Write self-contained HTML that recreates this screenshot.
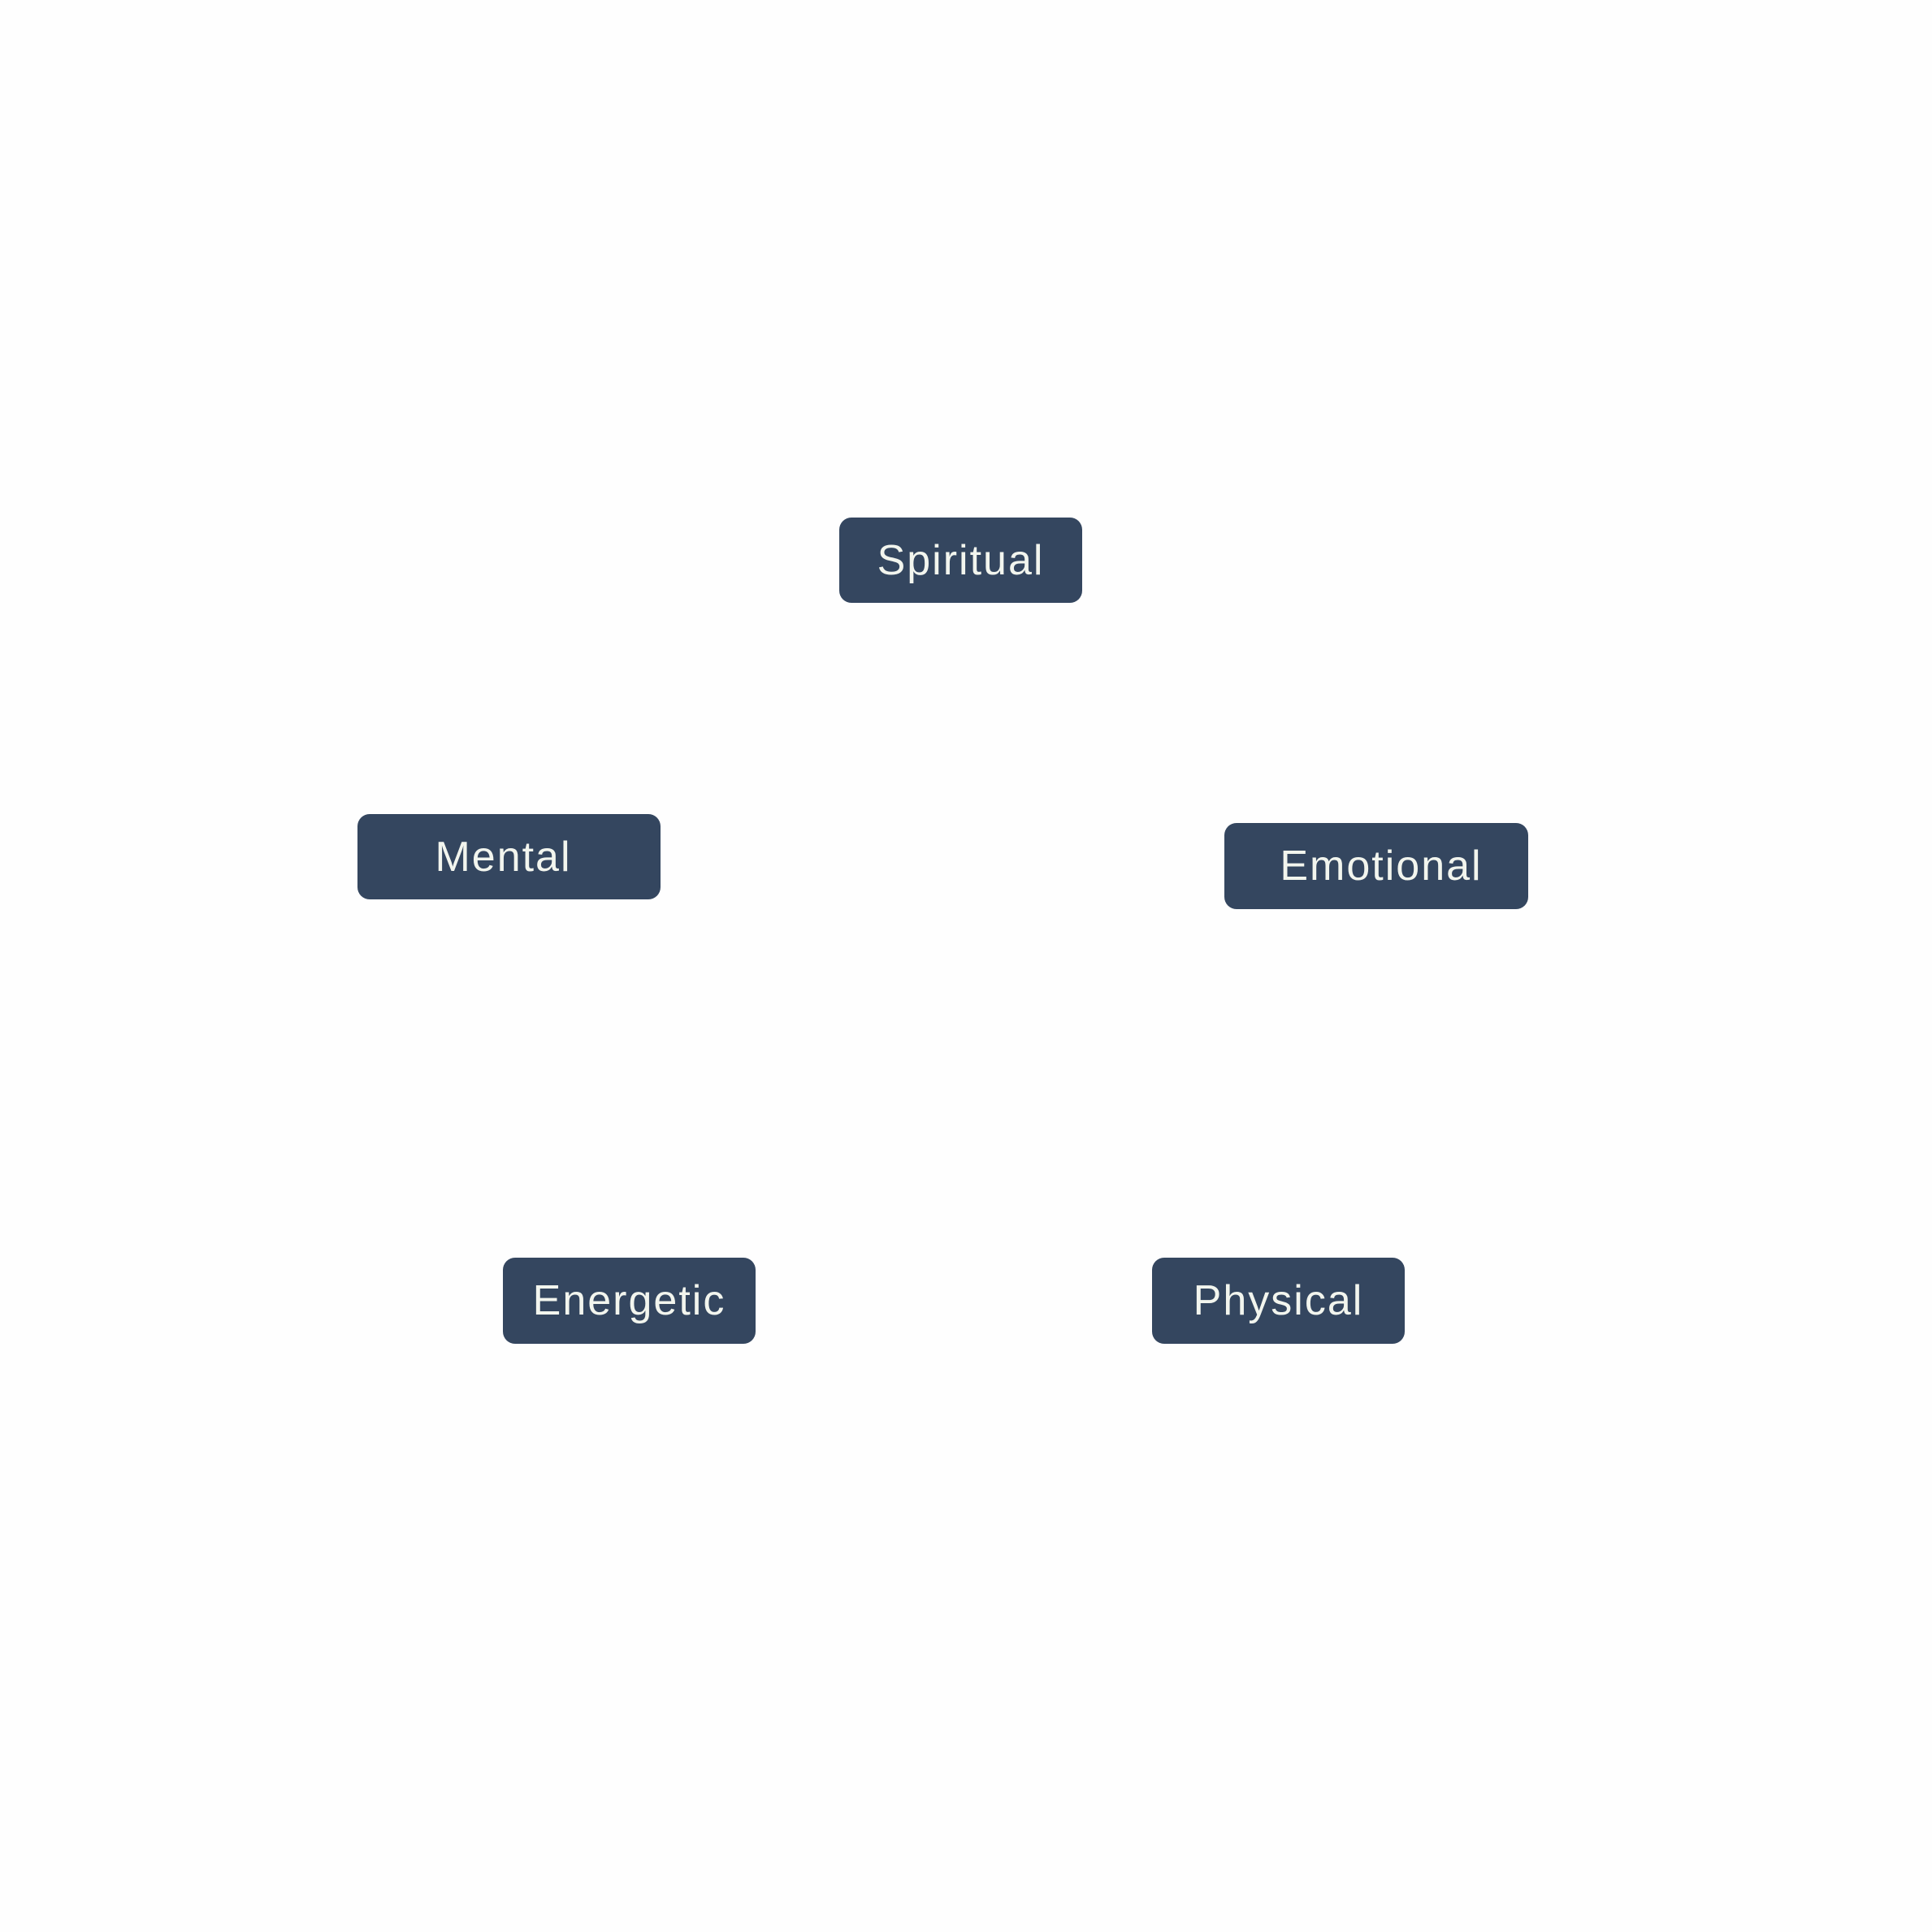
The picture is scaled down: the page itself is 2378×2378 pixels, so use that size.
<!DOCTYPE html>
<html><head><style>
html,body{margin:0;padding:0;background:#fefefe;}
body{width:2378px;height:2378px;position:relative;overflow:hidden;font-family:"Liberation Sans",sans-serif;}
.b{position:absolute;background:#34465f;border-radius:15px;color:#f2f5ee;font-size:52px;display:flex;align-items:center;justify-content:center;letter-spacing:2px;}
</style></head><body>
<div class="b" style="left:1033px;top:637px;width:299px;height:105px;">Spiritual</div>
<div class="b" style="left:440px;top:1002px;width:373px;height:105px;padding-right:14px;box-sizing:border-box;">Mental</div>
<div class="b" style="left:1507px;top:1013px;width:374px;height:106px;padding-left:12px;box-sizing:border-box;">Emotional</div>
<div class="b" style="left:619px;top:1548px;width:311px;height:106px;">Energetic</div>
<div class="b" style="left:1418px;top:1548px;width:311px;height:106px;">Physical</div>
</body></html>
